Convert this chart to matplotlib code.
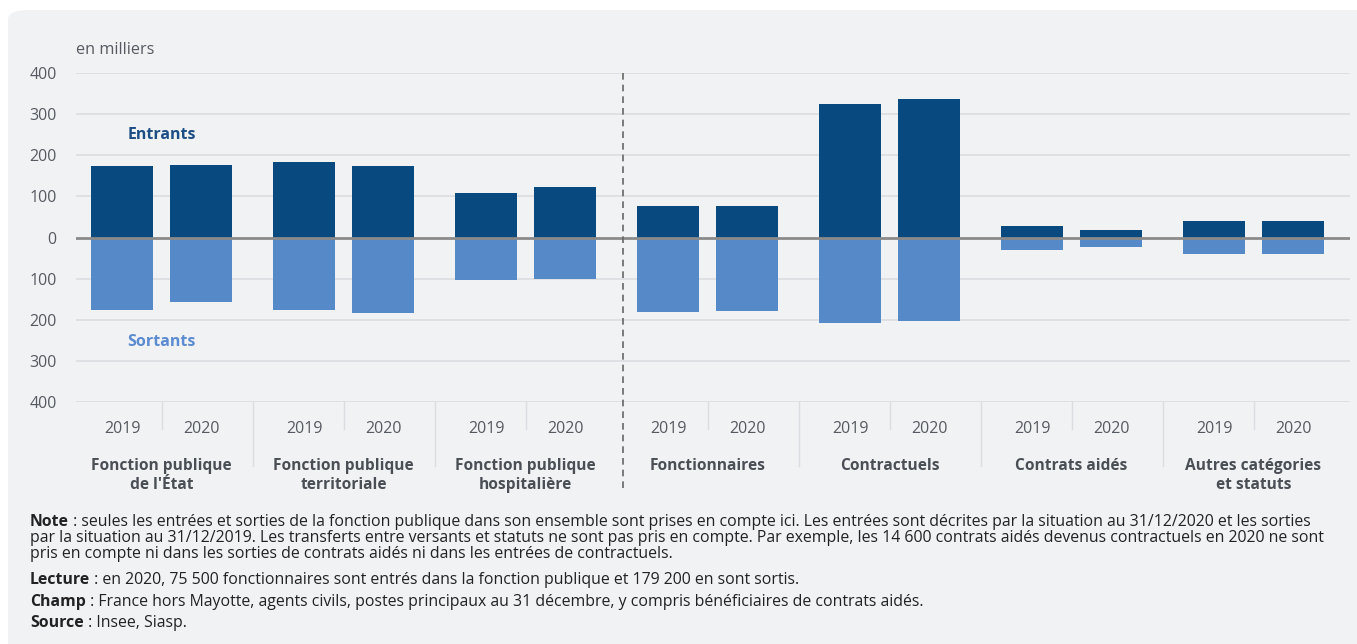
import matplotlib.pyplot as plt
import numpy as np
from matplotlib.patches import FancyBboxPatch

# Data (in thousands)
groups = ["Fonction publique\nde l'État", "Fonction publique\nterritoriale", "Fonction publique\nhospitalière",
          "Fonctionnaires", "Contractuels", "Contrats aidés", "Autres catégories\net statuts"]
years = ["2019", "2020"]
entrants_2019 = [174.5, 184, 109, 77, 325, 28.5, 40.5]
entrants_2020 = [177, 174.5, 123.5, 75.5, 337, 18.5, 40.5]
sortants_2019 = [176, 176, 104, 181, 207.5, 30, 39.5]
sortants_2020 = [158, 183, 102, 179.2, 203, 22.5, 39.5]
y_ticks = [-400, -300, -200, -100, 0, 100, 200, 300, 400]

# Footnote lines: (bold prefix, rest of the line)
notes = [
    ("Note", " : seules les entrées et sorties de la fonction publique dans son ensemble sont prises en compte ici. Les entrées sont décrites par la situation au 31/12/2020 et les sorties"),
    ("", "par la situation au 31/12/2019. Les transferts entre versants et statuts ne sont pas pris en compte. Par exemple, les 14 600 contrats aidés devenus contractuels en 2020 ne sont"),
    ("", "pris en compte ni dans les sorties de contrats aidés ni dans les entrées de contractuels."),
    ("Lecture", " : en 2020, 75 500 fonctionnaires sont entrés dans la fonction publique et 179 200 en sont sortis."),
    ("Champ", " : France hors Mayotte, agents civils, postes principaux au 31 décembre, y compris bénéficiaires de contrats aidés."),
    ("Source", " : Insee, Siasp."),
]

DARK = "#08497f"
LIGHT = "#5589c8"
GREY_TXT = "#555a60"

plt.rcParams["font.family"] = ["Open Sans", "DejaVu Sans"]


def draw_chart():
    fig = plt.figure(figsize=(13.57, 6.44), dpi=100)
    fig.patch.set_facecolor("white")
    # Light grey rounded panel behind everything
    panel = FancyBboxPatch((8 / 1357, -0.05), 1.05, 1.05 - 10 / 644,
                           boxstyle="round,pad=0,rounding_size=0.015",
                           transform=fig.transFigure, facecolor="#f1f2f4", edgecolor="none", zorder=-10)
    fig.patches.append(panel)

    ax = fig.add_axes([76 / 1357, 1 - 402 / 644, 1274 / 1357, 329 / 644])
    ax.set_facecolor("none")

    x = np.arange(len(groups))
    off = 0.217
    w = 0.34
    ax.bar(x - off, entrants_2019, width=w, color=DARK, zorder=3)
    ax.bar(x + off, entrants_2020, width=w, color=DARK, zorder=3)
    ax.bar(x - off, -np.array(sortants_2019), width=w, color=LIGHT, zorder=3)
    ax.bar(x + off, -np.array(sortants_2020), width=w, color=LIGHT, zorder=3)

    ax.set_xlim(-0.47, 6.53)
    ax.set_ylim(-400, 400)

    # Gridlines and zero line
    for t in y_ticks:
        if t != 0:
            ax.axhline(t, color="#dcdde0", lw=1.2, zorder=1)
    ax.axhline(0, color="#8a8a8a", lw=2, zorder=4)

    ax.set_yticks(y_ticks)
    ax.set_yticklabels([str(abs(t)) for t in y_ticks], fontsize=11.5, color=GREY_TXT)
    ax.tick_params(axis="y", length=0, pad=14)
    ax.set_xticks([])
    for s in ax.spines.values():
        s.set_visible(False)

    # Dashed separator between versants and statuts
    ax.plot([2.535, 2.535], [400, -620], ls=(0, (4, 3)), color="#666666", lw=1.2,
            clip_on=False, zorder=5)

    # Year labels, group labels and separator ticks below the axis
    for i, g in enumerate(groups):
        ax.text(i - off, -465, years[0], ha="center", va="center", fontsize=11.5, color=GREY_TXT)
        ax.text(i + off, -465, years[1], ha="center", va="center", fontsize=11.5, color=GREY_TXT)
        ax.text(i, -535, g, ha="center", va="top", fontsize=11.2, fontweight="bold",
                color="#4a4f55", linespacing=1.25)
        ax.plot([i, i], [-400, -465], color="#dcdde0", lw=1, clip_on=False)
        if i < len(groups) - 1 and i != 2:
            ax.plot([i + 0.5, i + 0.5], [-400, -555], color="#dcdde0", lw=1, clip_on=False)

    ax.text(0, 250, "Entrants", ha="center", va="center", fontsize=11.5, fontweight="bold", color="#1c4e85")
    ax.text(0, -255, "Sortants", ha="center", va="center", fontsize=11.5, fontweight="bold", color="#5b8bd0")

    fig.text(76 / 1357, 1 - 50 / 644, "en milliers", ha="left", va="center", fontsize=11.7, color=GREY_TXT)

    # Footnotes with bold prefixes
    renderer = fig.canvas.get_renderer()
    line_y = [526, 542, 558, 584, 606, 627]
    for (bold, rest), py in zip(notes, line_y):
        xpos = 30 / 1357
        yfig = 1 - py / 644
        if bold:
            t = fig.text(xpos, yfig, bold, ha="left", va="baseline", fontsize=11.45, fontweight="bold", color="#222222")
            bb = t.get_window_extent(renderer=renderer)
            xpos = bb.x1 / fig.bbox.width
        fig.text(xpos, yfig, rest, ha="left", va="baseline", fontsize=11.45, color="#222222")

    fig.savefig("out.png", dpi=100, facecolor=fig.get_facecolor())


def main():
    draw_chart()


if __name__ == "__main__":
    main()
